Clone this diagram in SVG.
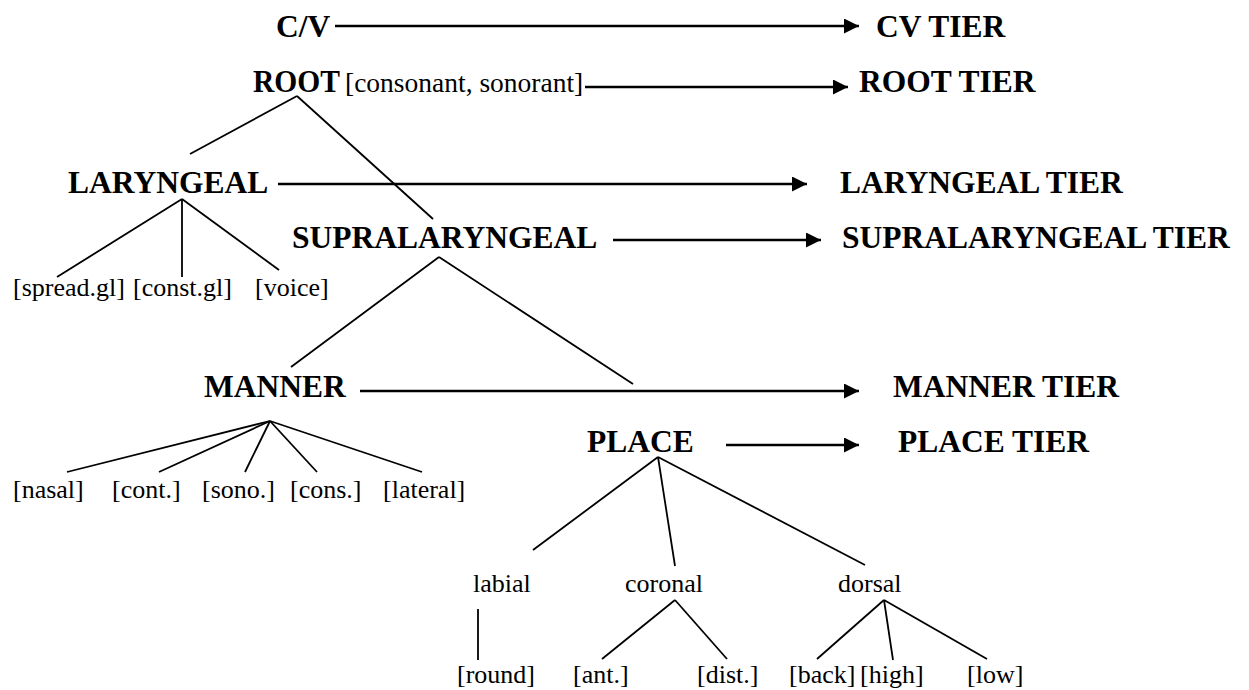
<svg xmlns="http://www.w3.org/2000/svg" width="1249" height="690" viewBox="0 0 1249 690">
  <style>
    .b { font-family: "Liberation Serif", "Times New Roman", serif; font-weight: bold; font-size: 31.5px; fill: #000; }
    .r { font-family: "Liberation Serif", "Times New Roman", serif; font-size: 26px; fill: #000; }
    .tree line { stroke: #000; stroke-width: 1.8; }
    .tier line { stroke: #000; stroke-width: 2.5; }
  </style>
  <defs>
    <marker id="head" viewBox="0 0 16 16" refX="16" refY="8" markerWidth="15" markerHeight="15" markerUnits="userSpaceOnUse" orient="auto">
      <path d="M0,0 L16,8 L0,16 Z" fill="#000"/>
    </marker>
  </defs>
  <rect width="1249" height="690" fill="#fff"/>

  <!-- feature-geometry nodes -->
  <g id="cv"><text class="b" x="276" y="37">C/V</text></g>
  <g id="root">
    <text class="b" x="253" y="92" textLength="87" lengthAdjust="spacingAndGlyphs">ROOT</text>
    <text class="r" x="345" y="92" style="font-size:27.5px">[consonant, sonorant]</text>
  </g>
  <g id="laryngeal"><text class="b" x="68" y="193">LARYNGEAL</text></g>
  <g id="supralaryngeal"><text class="b" x="292" y="248">SUPRALARYNGEAL</text></g>
  <g id="manner"><text class="b" x="204" y="397">MANNER</text></g>
  <g id="place"><text class="b" x="587" y="452">PLACE</text></g>

  <g id="laryngeal-features">
    <text class="r" x="13" y="296">[spread.gl]</text>
    <text class="r" x="133" y="296">[const.gl]</text>
    <text class="r" x="255" y="296">[voice]</text>
  </g>
  <g id="manner-features">
    <text class="r" x="13" y="498">[nasal]</text>
    <text class="r" x="112" y="498">[cont.]</text>
    <text class="r" x="202" y="498">[sono.]</text>
    <text class="r" x="290" y="498">[cons.]</text>
    <text class="r" x="383" y="498">[lateral]</text>
  </g>
  <g id="labial"><text class="r" x="473" y="592">labial</text></g>
  <g id="coronal"><text class="r" x="625" y="592">coronal</text></g>
  <g id="dorsal"><text class="r" x="838" y="592">dorsal</text></g>
  <g id="place-features">
    <text class="r" x="457" y="683">[round]</text>
    <text class="r" x="573" y="683">[ant.]</text>
    <text class="r" x="697" y="683">[dist.]</text>
    <text class="r" x="789" y="683">[back]</text>
    <text class="r" x="860" y="683">[high]</text>
    <text class="r" x="967" y="683">[low]</text>
  </g>

  <!-- tier labels -->
  <g id="cv-tier"><text class="b" x="876" y="37">CV TIER</text></g>
  <g id="root-tier"><text class="b" x="859" y="92">ROOT TIER</text></g>
  <g id="laryngeal-tier"><text class="b" x="840" y="193">LARYNGEAL TIER</text></g>
  <g id="supralaryngeal-tier"><text class="b" x="842" y="248">SUPRALARYNGEAL TIER</text></g>
  <g id="manner-tier"><text class="b" x="893" y="397">MANNER TIER</text></g>
  <g id="place-tier"><text class="b" x="898" y="452">PLACE TIER</text></g>

  <!-- connectors -->
  <g id="connectors">
    <g class="tree">
      <line x1="297" y1="96" x2="190" y2="154"/>
      <line x1="297" y1="96" x2="433" y2="219"/>
      <line x1="182" y1="199" x2="57" y2="277"/>
      <line x1="182" y1="199" x2="182" y2="277"/>
      <line x1="182" y1="199" x2="279" y2="270"/>
      <line x1="439" y1="257" x2="291" y2="367"/>
      <line x1="439" y1="257" x2="633" y2="384"/>
      <line x1="270" y1="421" x2="67" y2="472"/>
      <line x1="270" y1="421" x2="159" y2="472"/>
      <line x1="270" y1="421" x2="245" y2="472"/>
      <line x1="270" y1="421" x2="317" y2="472"/>
      <line x1="270" y1="421" x2="422" y2="472"/>
      <line x1="658" y1="457" x2="533" y2="550"/>
      <line x1="658" y1="457" x2="675" y2="566"/>
      <line x1="658" y1="457" x2="865" y2="565"/>
      <line x1="478" y1="609" x2="478" y2="660"/>
      <line x1="675" y1="600" x2="602" y2="659"/>
      <line x1="675" y1="600" x2="727" y2="659"/>
      <line x1="884" y1="600" x2="817" y2="659"/>
      <line x1="884" y1="600" x2="893" y2="660"/>
      <line x1="884" y1="600" x2="987" y2="659"/>
    </g>
    <g class="tier">
      <line x1="335" y1="26" x2="859" y2="26" marker-end="url(#head)"/>
      <line x1="585" y1="87" x2="848" y2="87" marker-end="url(#head)"/>
      <line x1="278" y1="184" x2="807" y2="184" marker-end="url(#head)"/>
      <line x1="613" y1="240" x2="821" y2="240" marker-end="url(#head)"/>
      <line x1="360" y1="391" x2="859" y2="391" marker-end="url(#head)"/>
      <line x1="726" y1="445" x2="859" y2="445" marker-end="url(#head)"/>
    </g>
  </g>
</svg>
